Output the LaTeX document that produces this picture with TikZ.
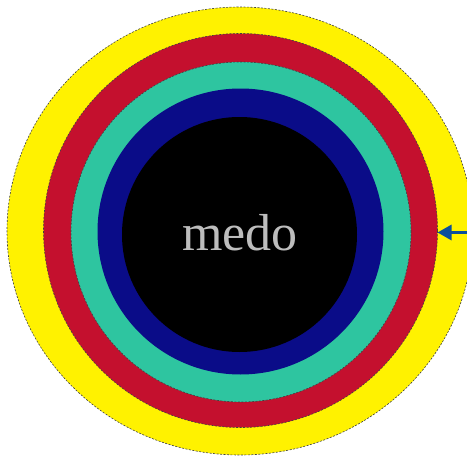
\documentclass[tikz,border=0pt]{standalone}
\usepackage{fontspec}
\setmainfont{Liberation Serif}
\usetikzlibrary{arrows.meta}

\definecolor{outer}{HTML}{FFF200}
\definecolor{crimson}{HTML}{C4102E}
\definecolor{teal}{HTML}{2EC5A0}
\definecolor{navy}{HTML}{0A0C88}
\definecolor{pointer}{HTML}{0B4F9C}
\definecolor{label}{HTML}{BDBDBD}

\begin{document}
\begin{tikzpicture}[x=1pt, y=-1pt,
    ring/.style={draw=black!75, dash pattern=on 2pt off 1.5pt, line width=0.6pt}]

\useasboundingbox (0,0) rectangle (467,458);

% ---- Rings, from outside in ----
\filldraw[fill=outer, ring] (240,231) ellipse [x radius=233pt, y radius=224pt];
\filldraw[fill=crimson, ring] (240.5,230.5) circle (197pt);
\filldraw[fill=teal, ring] (241,232) circle (170pt);
\fill[navy] (240.5,231.5) circle (143pt);
\fill[black] (239.5,234.5) circle (117.5pt);

% Core label
\node[anchor=base, text=label, font=\fontsize{52}{52}\selectfont, inner sep=0pt]
    (core) at (240,250) {medo};

% ---- Pointer to the red ring ----
\coordinate (edge) at (437.5,232.5);
\coordinate (tail) at (468,232.5);
\draw[-{Triangle[length=14pt, width=15pt]}, color=pointer, line width=3pt]
    (tail) -- (edge);

\end{tikzpicture}
\end{document}
